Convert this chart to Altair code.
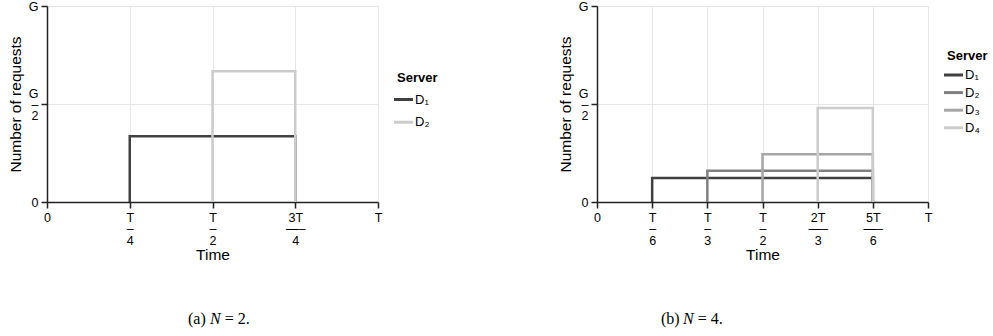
import json

import altair as alt
import pandas as pd

# ---- panel (a): N = 2 servers ----
a_servers = ["D₁", "D₂"]
a_start = [0.25, 0.5]          # activation time, fraction of T
a_end = [0.75, 0.75]           # release time, fraction of T
a_load = [0.335, 0.667]        # requests, fraction of G
a_colors = ["#404040", "#cccccc"]
a_ticks = [0, 0.25, 0.5, 0.75, 1]
a_tick_labels = [["0"], ["T", "–", "4"], ["T", "–", "2"], ["3T", "—–", "4"], ["T"]]

# ---- panel (b): N = 4 servers ----
b_servers = ["D₁", "D₂", "D₃", "D₄"]
b_start = [1 / 6, 1 / 3, 1 / 2, 2 / 3]
b_end = [5 / 6, 5 / 6, 5 / 6, 5 / 6]
b_load = [0.123, 0.16, 0.243, 0.48]
b_colors = ["#404040", "#808080", "#a6a6a6", "#cccccc"]
b_ticks = [0, 1 / 6, 1 / 3, 1 / 2, 2 / 3, 5 / 6, 1]
b_tick_labels = [["0"], ["T", "–", "6"], ["T", "–", "3"], ["T", "–", "2"],
                 ["2T", "—–", "3"], ["5T", "—–", "6"], ["T"]]

# shared request axis
y_ticks = [0, 0.5, 1]
y_tick_labels = [["0"], ["G", "–", "2"], ["G"]]

# captions: (prefix, italic symbol, suffix)
a_caption = ["(a)", "N", "= 2."]
b_caption = ["(b)", "N", "= 4."]

W, H = 331, 196
Y_LINE = 11


def step_rows(servers, start, end, load):
    """Each server's load as a rectangular pulse: up at start, down at end."""
    rows = []
    for s, t0, t1, v in zip(servers, start, end, load):
        pts = [(t0, 0.0), (t0, v), (t1, v), (t1, 0.0)]
        for i, (t, y) in enumerate(pts):
            rows.append({"server": s, "t": t, "load": y, "o": i})
    return pd.DataFrame(rows)


def label_expr(ticks, labels):
    expr = "''"
    for v, lab in reversed(list(zip(ticks, labels))):
        expr = f"abs(datum.value - {v!r}) < 1e-6 ? {json.dumps(lab, ensure_ascii=False)} : ({expr})"
    return expr


def panel(servers, start, end, load, colors, ticks, tick_labels, caption,
          legend_y, legend_title_pad, legend_row_pad, cap_x):
    df = step_rows(servers, start, end, load)
    lines = alt.Chart(df).mark_line(strokeWidth=2.5, strokeJoin="miter", strokeCap="butt").encode(
        x=alt.X("t:Q", title="Time",
                scale=alt.Scale(domain=[0, 1], nice=False, zero=False),
                axis=alt.Axis(values=ticks, labelExpr=label_expr(ticks, tick_labels),
                              labelFlush=False, labelOverlap=False, labelLineHeight=11.5,
                              labelPadding=3, titlePadding=1)),
        y=alt.Y("load:Q", title="Number of requests",
                scale=alt.Scale(domain=[0, 1], nice=False),
                axis=alt.Axis(values=y_ticks, labelExpr=label_expr(y_ticks, y_tick_labels),
                              labelFlush=False, labelOverlap=False, labelLineHeight=Y_LINE,
                              # centre the stacked fraction label on its tick
                              labelOffset={"condition": {"test": "abs(datum.value - 0.5) < 1e-6",
                                                         "value": -Y_LINE},
                                           "value": 0},
                              labelPadding=3, titlePadding=5)),
        color=alt.Color("server:N", sort=servers,
                        scale=alt.Scale(domain=servers, range=colors),
                        legend=alt.Legend(title="Server", orient="none",
                                          legendX=350, legendY=legend_y,
                                          symbolType="M-2,0H2", symbolSize=90,
                                          symbolStrokeWidth=3, labelOffset=5,
                                          titlePadding=legend_title_pad,
                                          rowPadding=legend_row_pad)),
        order="o:Q",
    )
    layers = [lines]
    fonts = ["normal", "italic", "normal"]
    offsets = [0, 22, 36.7]
    for part, style, dx in zip(caption, fonts, offsets):
        layers.append(
            alt.Chart(pd.DataFrame({"c": [part]})).mark_text(
                font="Liberation Serif", fontSize=16, fontStyle=style,
                align="left", baseline="middle", color="#000"
            ).encode(text="c:N", x=alt.value(cap_x + dx), y=alt.value(313))
        )
    return alt.layer(*layers).properties(width=W, height=H)


left = panel(a_servers, a_start, a_end, a_load, a_colors, a_ticks, a_tick_labels,
             a_caption, legend_y=66, legend_title_pad=8, legend_row_pad=8.7, cap_x=141)
right = panel(b_servers, b_start, b_end, b_load, b_colors, b_ticks, b_tick_labels,
              b_caption, legend_y=43.5, legend_title_pad=6, legend_row_pad=3.6, cap_x=64)

chart = alt.hconcat(left, right, spacing=120).resolve_scale(
    color="independent"
).resolve_legend(
    color="independent"
).properties(
    padding={"left": 8, "top": 0, "right": 5, "bottom": 5}
).configure(
    font="Liberation Sans"
).configure_view(
    stroke=None
).configure_axis(
    domainColor="#222", domainWidth=1.5, tickColor="#222", tickWidth=1.5, tickSize=6,
    gridColor="#e6e6e6", gridWidth=1, labelColor="#000", labelFontSize=12.5,
    titleColor="#000", titleFontSize=15.5, titleFontWeight="normal"
).configure_legend(
    titleFontSize=13, titleColor="#000", labelFontSize=13, labelColor="#000",
    padding=0
)

chart.save("out.html", embed_options={"renderer": "svg", "actions": False})
